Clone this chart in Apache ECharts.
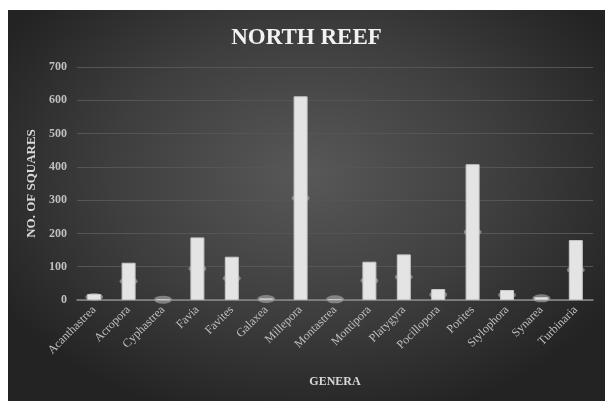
<!DOCTYPE html>
<html>
<head>
<meta charset="utf-8">
<script src="https://cdn.jsdelivr.net/npm/echarts@6/dist/echarts.min.js"></script>
<style>
html,body{margin:0;padding:0;background:#fff;width:605px;height:401px;overflow:hidden;}
#c{position:absolute;left:8px;top:10px;width:597px;height:391px;
background:radial-gradient(ellipse 60% 65% at 50% 42%, #585858 0%, #3e3e3e 55%, #232323 100%);}
</style>
</head>
<body>
<div id="c"></div>
<script>
const categories = ['Acanthastrea','Acropora','Cyphastrea','Favia','Favites','Galaxea','Millepora','Montastrea','Montipora','Platygyra','Pocillopora','Porites','Stylophora','Synarea','Turbinaria'];
const squares = [18, 112, 2, 188, 130, 5, 612, 3, 115, 137, 33, 408, 30, 9, 180];
const midMarks = [9, 56, 1, 94, 65, 3, 306, 2, 58, 69, 16, 204, 15, 5, 90];
const yTicks = [0, 100, 200, 300, 400, 500, 600, 700];

const chart = echarts.init(document.getElementById('c'), null, {renderer:'canvas'});
const serif = "'Liberation Serif','DejaVu Serif',serif";
chart.setOption({
  animation:false,
  backgroundColor:'transparent',
  title:{text:'NORTH REEF',left:'center',top:12,
    textStyle:{fontFamily:serif,fontWeight:'bold',fontSize:23,color:'#f2f2f2'}},
  grid:{left:69,right:12,top:57,bottom:101},
  xAxis:{type:'category',data:categories,
    name:'GENERA',nameLocation:'middle',nameGap:76,
    nameTextStyle:{fontFamily:serif,fontWeight:'bold',fontSize:12,color:'#d9d9d9'},
    axisLine:{lineStyle:{color:'#8c8c8c',width:1.5}},
    axisTick:{show:false},
    axisLabel:{rotate:45,interval:0,fontFamily:serif,fontSize:12,color:'#bfbfbf',margin:8}},
  yAxis:{type:'value',min:0,max:700,interval:100,
    name:'NO. OF SQUARES',nameLocation:'middle',nameGap:31,
    nameTextStyle:{fontFamily:serif,fontWeight:'bold',fontSize:13,color:'#d9d9d9'},
    axisLine:{show:false},axisTick:{show:false},
    axisLabel:{fontFamily:serif,fontWeight:'bold',fontSize:12,color:'#bfbfbf',margin:10,
      formatter:v=>yTicks.includes(v)?String(v):''},
    splitLine:{lineStyle:{color:'#555555',width:1}}},
  series:[
    {type:'scatter',data:midMarks,symbol:'circle',symbolSize:[18,8],z:1,
     itemStyle:{color:'#a0a0a0',opacity:0.7}},
    {type:'bar',data:squares,barWidth:14,z:2,
     itemStyle:{color:'#e4e4e4',borderColor:'#c8c8c8',borderWidth:1}}
  ]
});
</script>
</body>
</html>
